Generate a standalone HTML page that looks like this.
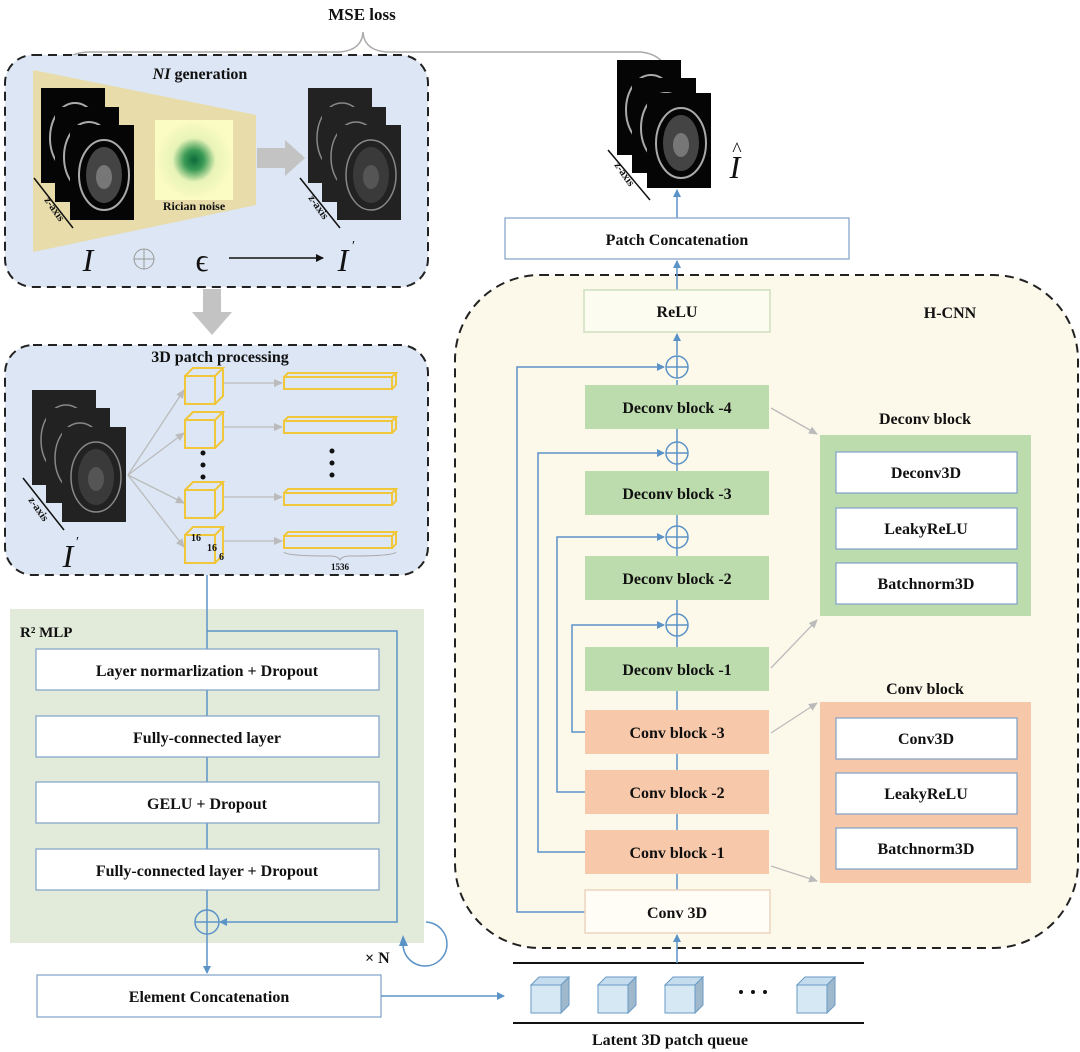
<!DOCTYPE html>
<html><head><meta charset="utf-8"><style>
body{margin:0;background:#fff}
svg{display:block;font-weight:bold}
text{font-family:"Liberation Serif",serif;fill:#111}
</style></head><body>
<svg width="1080" height="1052" viewBox="0 0 1080 1052" xmlns="http://www.w3.org/2000/svg">
<defs>
<marker id="ab" markerWidth="8" markerHeight="8" refX="7" refY="4" orient="auto" markerUnits="userSpaceOnUse"><path d="M0,0 L8,4 L0,8 z" fill="#5b93c7"/></marker>
<marker id="ag" markerWidth="9" markerHeight="8" refX="8" refY="4" orient="auto" markerUnits="userSpaceOnUse"><path d="M0,0 L9,4 L0,8 z" fill="#bbb"/></marker>
<marker id="ak" markerWidth="8" markerHeight="8" refX="7" refY="4" orient="auto" markerUnits="userSpaceOnUse"><path d="M0,0 L8,4 L0,8 z" fill="#111"/></marker>
<radialGradient id="rn"><stop offset="0" stop-color="#0a6a3a"/><stop offset="0.25" stop-color="#3a9a55"/><stop offset="0.55" stop-color="#e8f3b8"/><stop offset="1" stop-color="#fbfcc4"/></radialGradient>
<g id="brain"><rect width="64" height="95" fill="#050505"/><ellipse cx="34" cy="50" rx="25" ry="35" fill="none" stroke="#aaa" stroke-width="2"/><ellipse cx="34" cy="50" rx="18" ry="28" fill="#444"/><ellipse cx="34" cy="52" rx="8" ry="12" fill="#777"/></g>
<g id="nbrain"><rect width="64" height="95" fill="#222"/><ellipse cx="34" cy="50" rx="25" ry="35" fill="none" stroke="#888" stroke-width="1.5"/><ellipse cx="34" cy="50" rx="18" ry="28" fill="#3a3a3a"/><ellipse cx="34" cy="52" rx="8" ry="12" fill="#555"/></g>
<g id="ycube" fill="none" stroke="#f0c63a" stroke-width="2"><rect x="0" y="8" width="30" height="28"/><path d="M0,8 L8,0 L38,0 L30,8 M38,0 L38,28 L30,36"/></g>
<g id="ybar" fill="none" stroke="#f0c63a" stroke-width="2"><rect x="0" y="4" width="108" height="12"/><path d="M0,4 L4,0 L112,0 L108,4 M112,0 L112,12 L108,16"/></g>
<g id="bcube"><rect x="0" y="8" width="30" height="28" fill="#d7e8f5" stroke="#6a9ac4"/><path d="M0,8 L8,0 L38,0 L30,8 z" fill="#c4dcee" stroke="#6a9ac4"/><path d="M30,8 L38,0 L38,28 L30,36 z" fill="#9fb8cc" stroke="#6a9ac4"/></g>
</defs>

<!-- MSE brace -->
<text x="362" y="20" font-size="17" text-anchor="middle">MSE loss</text>
<path d="M60,76 Q62,52 90,52 L340,52 Q362,50 363,32 Q364,50 386,52 L640,52 Q668,54 672,86" fill="none" stroke="#aaa" stroke-width="1.5"/>

<!-- NI generation panel -->
<rect x="5" y="55" width="423" height="232" rx="28" fill="#dce6f4" stroke="#222" stroke-width="2" stroke-dasharray="9,6"/>
<text x="200" y="79" font-size="16" text-anchor="middle"><tspan font-style="italic">NI</tspan> generation</text>
<path d="M33,70 L256,115 L256,205 L33,252 z" fill="#e8dcaa"/>
<use href="#brain" x="41" y="88"/><use href="#brain" x="55" y="107"/><use href="#brain" x="70" y="125"/>
<line x1="34" y1="178" x2="73" y2="228" stroke="#111" stroke-width="1.5"/>
<text x="44" y="200" font-size="11" transform="rotate(55 44 200)">z-axis</text>
<rect x="155" y="120" width="78" height="80" fill="url(#rn)"/>
<text x="194" y="210" font-size="12" text-anchor="middle">Rician noise</text>
<path d="M257,148 L285,148 L285,140 L305,158 L285,176 L285,168 L257,168 z" fill="#c3c3c3"/>
<use href="#nbrain" x="308" y="88"/><use href="#nbrain" x="322" y="107"/><use href="#nbrain" x="337" y="125"/>
<line x1="300" y1="178" x2="340" y2="228" stroke="#111" stroke-width="1.5"/>
<text x="308" y="198" font-size="11" transform="rotate(55 308 198)">z-axis</text>
<text x="88" y="271" font-size="32" font-style="italic" font-weight="normal" text-anchor="middle" fill="#222">I</text>
<circle cx="144" cy="259" r="10" fill="none" stroke="#999" stroke-width="1"/><path d="M134,259 H154 M144,249 V269" stroke="#999"/>
<text x="202" y="271" font-size="32" font-weight="normal" text-anchor="middle">ϵ</text>
<line x1="229" y1="258" x2="323" y2="258" stroke="#111" stroke-width="1.5" marker-end="url(#ak)"/>
<text x="343" y="271" font-size="32" font-style="italic" font-weight="normal" text-anchor="middle">I</text>
<text x="352" y="250" font-size="14" font-weight="normal">′</text>

<!-- gray down arrow -->
<path d="M203,289 L221,289 L221,312 L232,312 L212,335 L192,312 L203,312 z" fill="#c3c3c3"/>

<!-- 3D patch processing -->
<rect x="5" y="345" width="423" height="230" rx="28" fill="#dce6f4" stroke="#222" stroke-width="2" stroke-dasharray="9,6"/>
<text x="220" y="362" font-size="16" text-anchor="middle">3D patch processing</text>
<use href="#nbrain" x="32" y="390"/><use href="#nbrain" x="46" y="408"/><use href="#nbrain" x="62" y="427"/>
<line x1="23" y1="478" x2="64" y2="530" stroke="#111" stroke-width="1.5"/>
<text x="28" y="500" font-size="11" transform="rotate(55 28 500)">z-axis</text>
<text x="68" y="567" font-size="32" font-style="italic" font-weight="normal" text-anchor="middle">I</text>
<text x="76" y="546" font-size="14" font-weight="normal">′</text>
<g stroke="#bbb" stroke-width="1.3" fill="none">
<line x1="128" y1="475" x2="184" y2="390" marker-end="url(#ag)"/>
<line x1="128" y1="475" x2="184" y2="433" marker-end="url(#ag)"/>
<line x1="128" y1="475" x2="184" y2="503" marker-end="url(#ag)"/>
<line x1="128" y1="475" x2="184" y2="547" marker-end="url(#ag)"/>
<line x1="224" y1="383" x2="282" y2="383" marker-end="url(#ag)"/>
<line x1="224" y1="427" x2="282" y2="427" marker-end="url(#ag)"/>
<line x1="224" y1="497" x2="282" y2="497" marker-end="url(#ag)"/>
<line x1="224" y1="541" x2="282" y2="541" marker-end="url(#ag)"/>
</g>
<use href="#ycube" x="185" y="368"/><use href="#ycube" x="185" y="412"/><use href="#ycube" x="185" y="482"/><use href="#ycube" x="185" y="527"/>
<use href="#ybar" x="284" y="373"/><use href="#ybar" x="284" y="417"/><use href="#ybar" x="284" y="489"/><use href="#ybar" x="284" y="532"/>
<g fill="#111"><circle cx="203" cy="453" r="2.5"/><circle cx="203" cy="465" r="2.5"/><circle cx="203" cy="477" r="2.5"/><circle cx="332" cy="451" r="2.5"/><circle cx="332" cy="463" r="2.5"/><circle cx="332" cy="475" r="2.5"/></g>
<text x="191" y="541" font-size="10">16</text><text x="207" y="551" font-size="10">16</text><text x="219" y="560" font-size="10">6</text>
<path d="M284,552 Q286,556 330,556 Q338,556 340,560 Q342,556 350,556 Q394,556 396,552" fill="none" stroke="#aaa"/>
<text x="340" y="570" font-size="9" text-anchor="middle">1536</text>

<!-- R2 MLP -->
<line x1="207" y1="575" x2="207" y2="609" stroke="#5b93c7" stroke-width="1.5"/>
<rect x="10" y="609" width="414" height="334" fill="#e2ebda"/>
<text x="20" y="637" font-size="15">R² MLP</text>
<g stroke="#5b93c7" stroke-width="1.5" fill="none">
<line x1="207" y1="609" x2="207" y2="910"/>
<path d="M207,631 H397 V922 H220" marker-end="url(#ab)"/>
<circle cx="207" cy="922" r="12"/><path d="M195,922 H219 M207,910 V934"/>
<line x1="207" y1="934" x2="207" y2="973" marker-end="url(#ab)"/>
<path d="M426,922 A22,22 0 1 1 403,944" />
</g>
<path d="M399,946 L403,935 L408,946 z" fill="#5b93c7"/>
<g fill="#fff" stroke="#7ea2c8" stroke-width="1.2">
<rect x="36" y="649" width="343" height="41"/><rect x="36" y="716" width="343" height="41"/><rect x="36" y="782" width="343" height="41"/><rect x="36" y="849" width="343" height="41"/>
<rect x="37" y="975" width="344" height="42"/>
</g>
<g font-size="16" text-anchor="middle">
<text x="207" y="676">Layer normarlization + Dropout</text>
<text x="207" y="743">Fully-connected layer</text>
<text x="207" y="809">GELU + Dropout</text>
<text x="207" y="876">Fully-connected layer + Dropout</text>
<text x="209" y="1002">Element Concatenation</text>
</g>
<text x="365" y="963" font-size="16">× N</text>
<line x1="381" y1="996" x2="504" y2="996" stroke="#5b93c7" stroke-width="1.5" marker-end="url(#ab)"/>

<!-- queue -->
<line x1="513" y1="963" x2="864" y2="963" stroke="#111" stroke-width="2"/>
<line x1="513" y1="1023" x2="864" y2="1023" stroke="#111" stroke-width="2"/>
<use href="#bcube" x="531" y="977"/><use href="#bcube" x="598" y="977"/><use href="#bcube" x="665" y="977"/><use href="#bcube" x="797" y="977"/>
<g fill="#111"><circle cx="741" cy="992" r="2"/><circle cx="753" cy="992" r="2"/><circle cx="765" cy="992" r="2"/></g>
<text x="670" y="1045" font-size="16" text-anchor="middle">Latent 3D patch queue</text>

<!-- H-CNN -->
<rect x="455" y="275" width="623" height="673" rx="85" fill="#fdf9ea" stroke="#222" stroke-width="2" stroke-dasharray="9,6"/>
<text x="950" y="318" font-size="16" text-anchor="middle">H-CNN</text>
<g stroke="#5b93c7" stroke-width="1.5" fill="none">
<line x1="677" y1="963" x2="677" y2="935" marker-end="url(#ab)"/>
<line x1="677" y1="890" x2="677" y2="380"/>
<line x1="677" y1="355" x2="677" y2="334" marker-end="url(#ab)"/>
<line x1="677" y1="290" x2="677" y2="261" marker-end="url(#ab)"/>
<line x1="677" y1="218" x2="677" y2="190" marker-end="url(#ab)"/>
<path d="M585,912 H517 V367 H664" marker-end="url(#ab)"/>
<path d="M585,852 H538 V453 H664" marker-end="url(#ab)"/>
<path d="M585,792 H557 V537 H664" marker-end="url(#ab)"/>
<path d="M585,732 H572 V625 H664" marker-end="url(#ab)"/>
</g>
<g stroke="#5b93c7" stroke-width="1.5" fill="#fdf9ea">
<circle cx="677" cy="367" r="11"/><circle cx="677" cy="453" r="11"/><circle cx="677" cy="537" r="11"/><circle cx="677" cy="625" r="11"/>
<path d="M666,367 H688 M677,356 V378 M666,453 H688 M677,442 V464 M666,537 H688 M677,526 V548 M666,625 H688 M677,614 V636"/>
</g>
<rect x="584" y="290" width="186" height="42" fill="#fdfcf1" stroke="#cfe0c0" stroke-width="1.5"/>
<g fill="#bddcad">
<rect x="585" y="385" width="184" height="44"/><rect x="585" y="471" width="184" height="44"/><rect x="585" y="556" width="184" height="44"/><rect x="585" y="647" width="184" height="44"/>
</g>
<g fill="#f7c8aa">
<rect x="585" y="710" width="184" height="44"/><rect x="585" y="770" width="184" height="44"/><rect x="585" y="830" width="184" height="44"/>
</g>
<rect x="585" y="890" width="185" height="43" fill="#fffdf5" stroke="#ecd5c0" stroke-width="1.5"/>
<g font-size="16" text-anchor="middle">
<text x="677" y="317">ReLU</text>
<text x="677" y="413">Deconv block -4</text>
<text x="677" y="499">Deconv block -3</text>
<text x="677" y="584">Deconv block -2</text>
<text x="677" y="675">Deconv block -1</text>
<text x="677" y="738">Conv block -3</text>
<text x="677" y="798">Conv block -2</text>
<text x="677" y="858">Conv block -1</text>
<text x="677" y="918">Conv 3D</text>
</g>
<g stroke="#bbb" stroke-width="1.3">
<line x1="771" y1="408" x2="817" y2="434" marker-end="url(#ag)"/>
<line x1="771" y1="668" x2="817" y2="620" marker-end="url(#ag)"/>
<line x1="771" y1="733" x2="817" y2="703" marker-end="url(#ag)"/>
<line x1="771" y1="866" x2="817" y2="881" marker-end="url(#ag)"/>
</g>
<rect x="820" y="435" width="211" height="181" fill="#bddcad"/>
<rect x="820" y="702" width="211" height="181" fill="#f6c7a9"/>
<g fill="#fff" stroke="#7ea2c8" stroke-width="1.2">
<rect x="836" y="452" width="181" height="41"/><rect x="836" y="508" width="181" height="41"/><rect x="836" y="563" width="181" height="41"/>
<rect x="836" y="718" width="181" height="41"/><rect x="836" y="773" width="181" height="41"/><rect x="836" y="828" width="181" height="41"/>
</g>
<g font-size="16" text-anchor="middle">
<text x="925" y="424">Deconv block</text>
<text x="926" y="478">Deconv3D</text>
<text x="926" y="534">LeakyReLU</text>
<text x="926" y="589">Batchnorm3D</text>
<text x="925" y="694">Conv block</text>
<text x="926" y="744">Conv3D</text>
<text x="926" y="799">LeakyReLU</text>
<text x="926" y="854">Batchnorm3D</text>
</g>

<!-- Patch concat & output -->
<rect x="505" y="218" width="344" height="41" fill="#fff" stroke="#7ea2c8" stroke-width="1.2"/>
<text x="677" y="245" font-size="16" text-anchor="middle">Patch Concatenation</text>
<use href="#brain" x="617" y="60"/><use href="#brain" x="632" y="78"/><use href="#brain" x="647" y="93"/>
<line x1="608" y1="150" x2="650" y2="200" stroke="#111" stroke-width="1.5"/>
<text x="614" y="165" font-size="11" transform="rotate(55 614 165)">z-axis</text>
<text x="735" y="178" font-size="32" font-style="italic" font-weight="normal" text-anchor="middle">I</text>
<text x="737" y="156" font-size="20" font-weight="normal" text-anchor="middle">^</text>
</svg>
</body></html>
